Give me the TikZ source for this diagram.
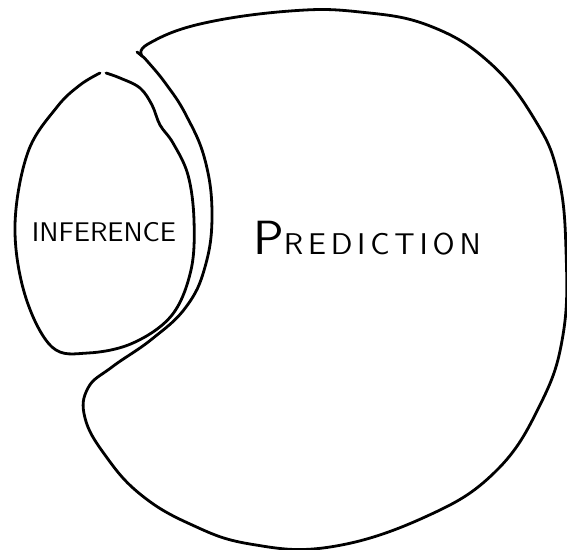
\documentclass[tikz,border=0pt]{standalone}
\usepackage{fontspec}
\newfontfamily\handfont{lmsans10-regular.otf}
\usepackage{tikz}

\begin{document}
\begin{tikzpicture}[
            x=1pt,y=-1pt,
            blob/.style={line width=2.8pt,line cap=round,line join=round},
            lab/.style={font=\handfont\fontsize{27}{30}\selectfont,inner sep=0pt},
            biglab/.style={font=\handfont\fontsize{30}{34}\selectfont\addfontfeatures{LetterSpace=16},inner sep=0pt}
        ]
        \useasboundingbox (0,0) rectangle (567,549);
        % prediction region, wrapped round the small one
        \draw[blob] plot[smooth,tension=0.7] coordinates {(142,56) (148,44) (200,24)
            (290,11) (360,12) (430,26) (490,63) (535,120) (558,175) (566,250)
            (563,335) (540,405) (495,472) (425,517) (330,547) (250,544) (190,524)
            (140,494) (105,455) (85,418) (88,388) (112,367) (152,339) (186,307)
            (205,267) (212,215) (205,160) (186,115) (166,84) (148,62) (142,56)};
        \draw[blob] (137,52) -- (142,56);
        % inference region
        \draw[blob] plot[smooth,tension=0.6] coordinates {(106,73) (120,78) (140,88)
            (152,105) (160,125) (173,143) (188,175) (194,220) (191,270) (172,315)
            (133,343) (88,353) (52,347) (25,295) (15,225) (28,152) (57,107) (80,85)
            (100,73)};
        % labels
        \node[lab] (inference) at (104,232) {INFERENCE};
        \node[biglab] (prediction) at (367,238) {{\fontsize{48}{50}\selectfont P}REDICTION};
\end{tikzpicture}
\end{document}
